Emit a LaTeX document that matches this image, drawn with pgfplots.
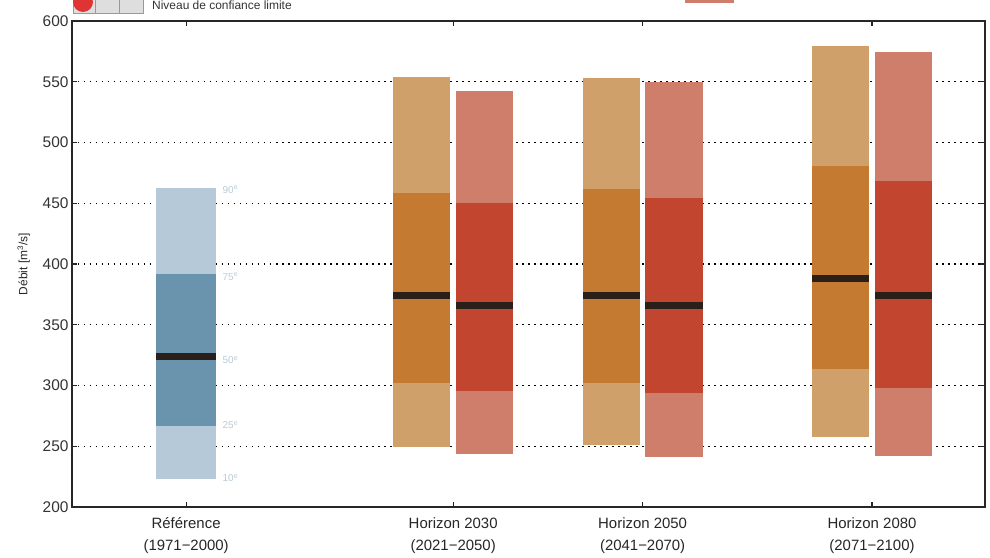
\documentclass[border=0pt]{standalone}
\usepackage{fontspec}
\setmainfont{Liberation Sans}
\usepackage{pgfplots}
\pgfplotsset{compat=1.18}
\definecolor{blueL}{RGB}{181,201,216}
\definecolor{blueD}{RGB}{106,147,173}
\definecolor{orL}{RGB}{207,160,106}
\definecolor{orD}{RGB}{196,122,48}
\definecolor{redL}{RGB}{207,126,108}
\definecolor{redD}{RGB}{194,69,48}
\definecolor{med}{RGB}{43,31,26}
\definecolor{pct}{RGB}{185,202,214}
\definecolor{legred}{RGB}{222,52,52}
% #1 light colour, #2 dark colour, #3 x left, #4 x right, #5..#9 = p10 p25 p50 p75 p90
\newcommand{\pbox}[9]{%
  \addplot[fill=#1,draw=none] coordinates {(#3,#5) (#4,#5) (#4,#6) (#3,#6)};
  \addplot[fill=#2,draw=none] coordinates {(#3,#6) (#4,#6) (#4,#8) (#3,#8)};
  \addplot[fill=#1,draw=none] coordinates {(#3,#8) (#4,#8) (#4,#9) (#3,#9)};
  \addplot[color=med,line width=7bp] coordinates {(#3,#7) (#4,#7)};
}
\begin{document}
\begin{tikzpicture}
\begin{axis}[
  scale only axis, width=913bp, height=486bp,
  xmin=0, xmax=8, ymin=200, ymax=600,
  xtick={1,3.34,5,7.01},
  xticklabels={{Référence\\(1971−2000)},{Horizon 2030\\(2021−2050)},{Horizon 2050\\(2041−2070)},{Horizon 2080\\(2071−2100)}},
  xticklabel style={align=center, font=\fontsize{15}{22}\selectfont, text=black!85, yshift=-7bp},
  ytick={200,250,...,600},
  yticklabel style={font=\fontsize{15.5}{17}\selectfont, text=black!80},
  /pgf/number format/assume math mode=true,
  ymajorgrids,
  grid style={black, line width=1.2bp, dash pattern=on 1.5bp off 4.5bp},
  tick align=inside, major tick length=5bp,
  axis line style={line width=1.2bp, black!85},
  tick style={line width=1.2bp, black!85},
  ylabel={Débit [m\textsuperscript{3}/s]},
  ylabel style={font=\fontsize{12}{14}\selectfont, text=black!85},
  ylabel shift=6bp,
  clip=false,
]
\pbox{blueL}{blueD}{0.74}{1.26}{222.8}{266.9}{323.7}{391.8}{462.3}
\pbox{orL}{orD}{2.815}{3.315}{249.6}{302.3}{374.2}{458.2}{553.7}
\pbox{redL}{redD}{3.365}{3.865}{243.6}{295.5}{365.7}{450.0}{542.6}
\pbox{orL}{orD}{4.475}{4.975}{251.0}{302.3}{374.2}{461.5}{552.8}
\pbox{redL}{redD}{5.025}{5.525}{241.1}{293.6}{365.7}{454.1}{549.8}
\pbox{orL}{orD}{6.485}{6.985}{257.9}{313.6}{388.2}{480.7}{579.7}
\pbox{redL}{redD}{7.035}{7.535}{242.2}{298.2}{373.9}{468.3}{574.7}
\begin{scope}[every node/.style={font=\fontsize{10}{11}\selectfont, text=pct, anchor=west, inner sep=1bp}]
\node at (axis cs:1.31,461) {90\textsuperscript{e}};
\node at (axis cs:1.31,389.6) {75\textsuperscript{e}};
\node at (axis cs:1.31,321) {50\textsuperscript{e}};
\node at (axis cs:1.31,267.5) {25\textsuperscript{e}};
\node at (axis cs:1.31,223.8) {10\textsuperscript{e}};
\end{scope}
\end{axis}
% partially visible legend at the top (cropped in the reference)
\draw[black!40, fill=black!13, line width=0.8bp] (1bp,494bp) rectangle (23bp,518bp);
\draw[black!40, fill=black!13, line width=0.8bp] (23bp,494bp) rectangle (47bp,518bp);
\draw[black!40, fill=black!13, line width=0.8bp] (47bp,494bp) rectangle (71bp,518bp);
\fill[legred] (11bp,505bp) circle (10bp);
\node[anchor=base west, inner sep=0pt, font=\fontsize{12}{14}\selectfont, text=black!80] at (80bp,497bp) {Niveau de confiance limite};
\fill[redL] (613bp,504bp) rectangle (662bp,520bp);
\pgfresetboundingbox
\path[use as bounding box] (-72bp,-51bp) rectangle (918bp,507bp);
\end{tikzpicture}
\end{document}
